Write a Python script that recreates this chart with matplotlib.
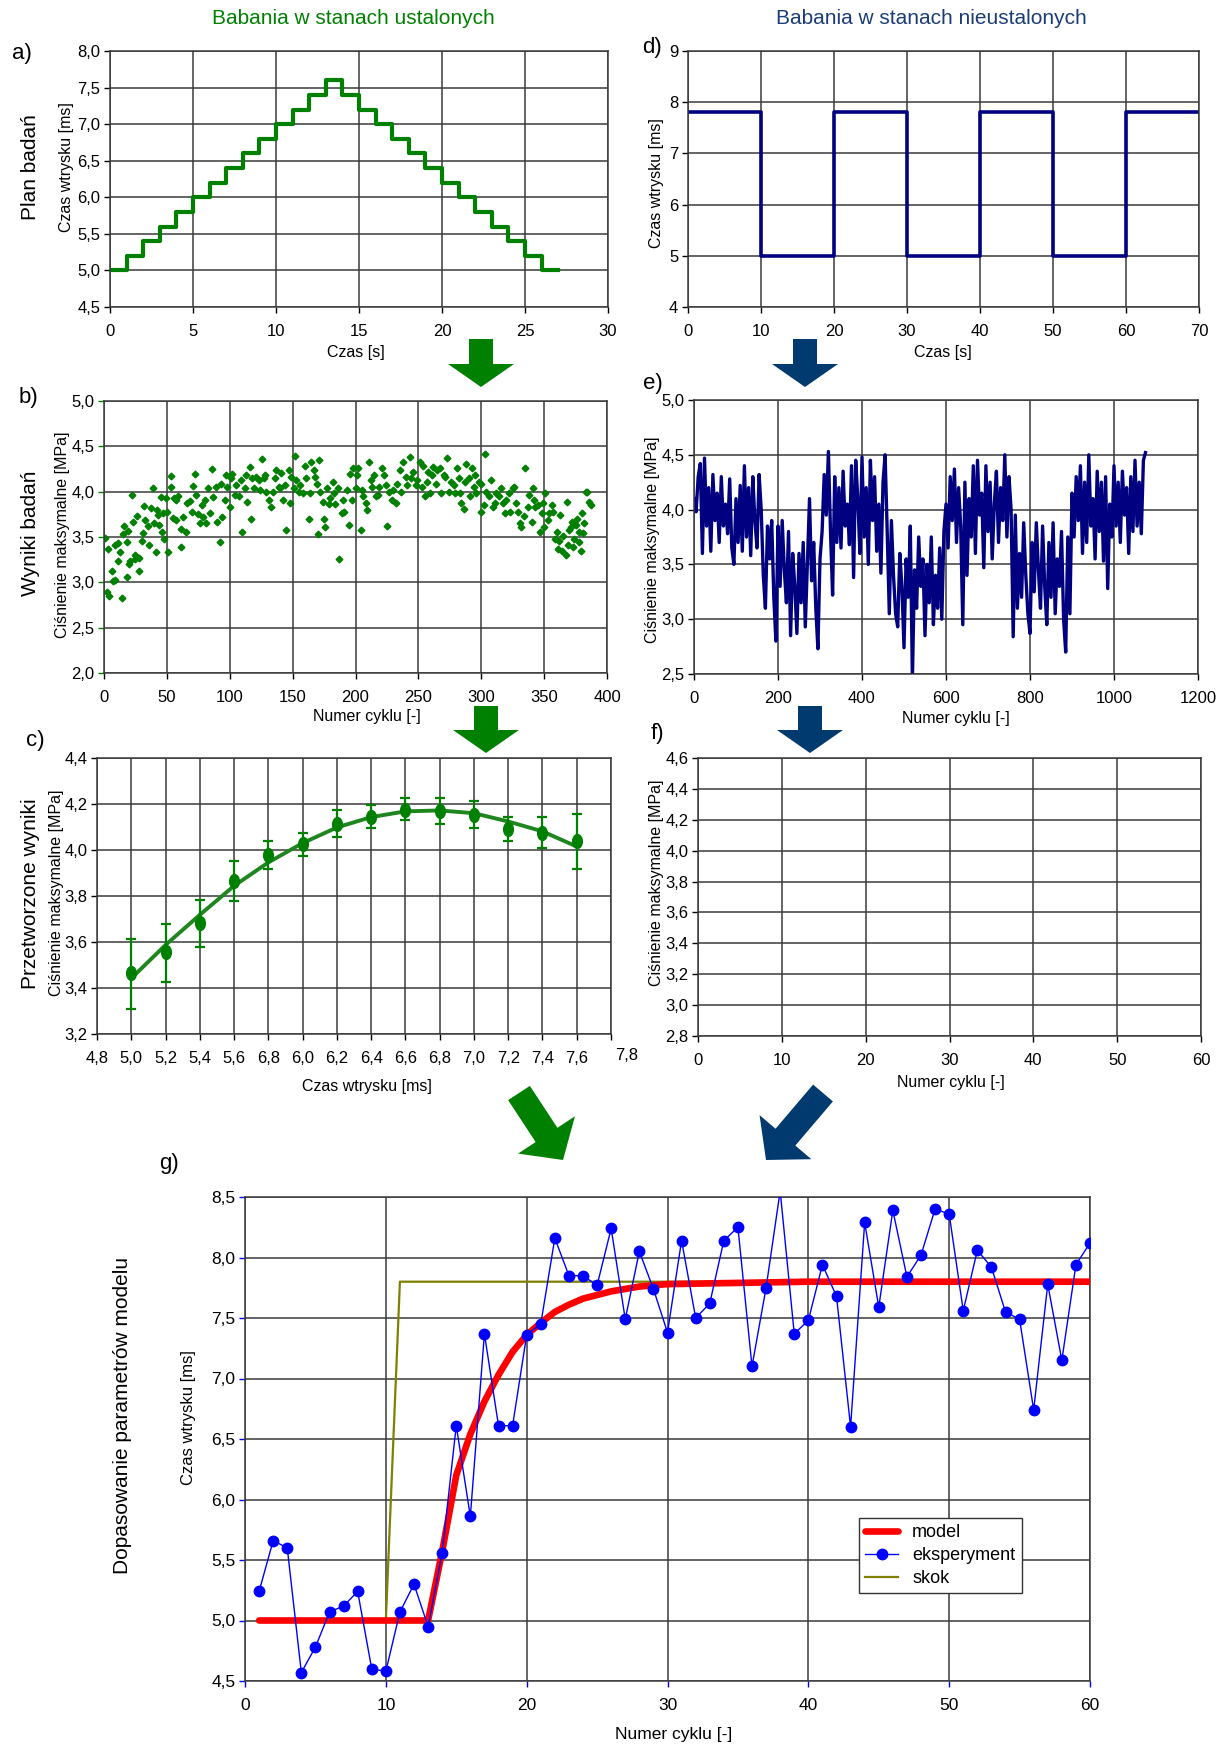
import numpy as np
import matplotlib
matplotlib.use('Agg')
import matplotlib.pyplot as plt
from matplotlib.patches import Polygon
from matplotlib.path import Path
from matplotlib.transforms import Affine2D
from matplotlib.ticker import FuncFormatter, MultipleLocator

plt.rcParams['font.family'] = ['Liberation Sans', 'DejaVu Sans']

# ---- dane ----
# a) plan badan (schodki)
a_czas = list(range(0, 28))
a_wart = [5.0, 5.2, 5.4, 5.6, 5.8, 6.0, 6.2, 6.4, 6.6, 6.8, 7.0, 7.2, 7.4, 7.6,
          7.4, 7.2, 7.0, 6.8, 6.6, 6.4, 6.2, 6.0, 5.8, 5.6, 5.4, 5.2, 5.0, 5.0]

# d) plan badan - skoki
d_czas = [0, 10, 20, 30, 40, 50, 60, 70]
d_wart = [7.8, 5.0, 7.8, 5.0, 7.8, 5.0, 7.8, 7.8]

# b) wyniki badan
b_cykl = [1, 2, 3, 4, 6, 7, 9, 9, 11, 11, 13, 14, 15, 16, 18, 18, 19, 20, 21, 22,
          23, 25, 25, 26, 28, 28, 30, 31, 32, 33, 35, 36, 37, 39, 40, 41, 42, 43, 44, 45,
          46, 47, 48, 49, 50, 51, 53, 53, 55, 56, 57, 57, 59, 61, 61, 63, 65, 66, 68, 70,
          71, 72, 73, 75, 76, 78, 79, 80, 81, 83, 84, 86, 87, 89, 90, 92, 93, 94, 96, 97,
          98, 100, 101, 102, 104, 105, 107, 109, 110, 112, 113, 114, 116, 117, 118, 119, 121, 123, 124, 126,
          127, 128, 129, 131, 133, 134, 136, 137, 139, 140, 141, 142, 144, 145, 147, 148, 149, 151, 152, 153,
          155, 156, 158, 160, 161, 163, 164, 165, 167, 168, 169, 170, 171, 172, 174, 175, 176, 177, 179, 180,
          182, 183, 184, 186, 187, 189, 190, 191, 193, 195, 196, 197, 198, 200, 201, 202, 204, 205, 206, 208,
          209, 211, 212, 213, 215, 216, 218, 219, 221, 223, 224, 225, 227, 229, 230, 232, 233, 235, 236, 238,
          240, 241, 243, 244, 246, 248, 249, 251, 253, 254, 255, 257, 258, 259, 261, 262, 264, 265, 267, 268,
          270, 271, 273, 274, 276, 278, 279, 281, 282, 283, 284, 286, 287, 288, 290, 291, 293, 294, 295, 296,
          298, 300, 300, 302, 303, 304, 306, 308, 309, 311, 312, 314, 316, 317, 319, 320, 322, 323, 325, 326,
          328, 329, 331, 332, 334, 335, 337, 338, 340, 341, 342, 343, 345, 347, 348, 349, 350, 351, 353, 354,
          356, 357, 359, 360, 361, 362, 363, 364, 365, 367, 368, 369, 370, 371, 372, 373, 374, 375, 376, 378,
          378, 379, 380, 381, 382, 383, 384, 386, 387]
b_wart = [3.49, 2.89, 3.37, 2.85, 3.13, 3.02, 3.03, 3.41, 3.43, 3.23, 3.34, 2.83, 3.53, 3.62, 3.44, 3.06, 3.57, 3.20, 3.24, 3.96,
          3.67, 3.30, 3.26, 3.73, 3.27, 3.13, 3.46, 3.54, 3.84, 3.69, 3.62, 3.41, 3.82, 4.04, 3.65, 3.33, 3.80, 3.74, 3.63, 3.94,
          3.56, 3.76, 3.48, 3.93, 3.78, 3.33, 4.17, 4.05, 3.71, 3.93, 3.69, 3.91, 3.95, 3.59, 3.39, 3.72, 3.55, 3.87, 3.90, 3.78,
          4.06, 4.20, 3.96, 3.75, 3.65, 3.85, 3.72, 3.91, 3.65, 4.04, 3.76, 4.25, 3.94, 4.05, 3.67, 3.45, 4.09, 3.72, 3.91, 4.18,
          4.05, 3.83, 4.15, 4.20, 3.96, 4.07, 3.95, 4.13, 3.55, 4.04, 4.18, 3.89, 4.27, 3.70, 4.15, 4.04, 4.16, 4.13, 4.02, 4.36,
          4.15, 4.18, 4.00, 3.91, 3.83, 4.00, 4.15, 4.24, 4.05, 4.04, 4.21, 3.91, 4.07, 3.58, 4.24, 3.87, 4.16, 4.04, 4.39, 4.13,
          4.00, 4.07, 3.98, 4.28, 4.15, 3.70, 3.98, 4.33, 4.24, 4.16, 4.08, 3.53, 4.35, 4.00, 3.89, 3.70, 3.61, 4.04, 3.86, 3.93,
          4.11, 3.98, 3.86, 4.04, 3.26, 3.76, 3.91, 3.78, 4.02, 3.63, 4.20, 3.91, 4.26, 4.04, 4.18, 4.26, 3.58, 4.02, 3.95, 3.87,
          3.80, 4.33, 4.13, 4.05, 4.18, 3.95, 3.96, 4.05, 4.26, 4.18, 4.07, 3.62, 4.00, 3.91, 4.02, 3.87, 4.09, 4.24, 4.00, 4.33,
          4.16, 4.07, 4.38, 4.15, 4.22, 4.07, 4.13, 4.33, 4.05, 4.28, 3.95, 4.11, 4.22, 3.98, 4.18, 4.27, 4.09, 4.24, 4.26, 3.98,
          4.18, 4.16, 4.37, 4.00, 4.11, 4.07, 3.98, 4.26, 4.15, 3.98, 3.87, 3.81, 4.11, 4.31, 4.15, 3.95, 4.26, 4.05, 4.18, 3.98,
          4.11, 4.09, 3.78, 3.85, 4.42, 4.00, 3.95, 4.13, 3.83, 3.87, 3.98, 3.95, 4.04, 3.87, 3.76, 3.91, 3.98, 3.78, 4.04, 4.05,
          3.87, 3.78, 3.65, 3.61, 3.73, 4.26, 3.83, 3.96, 3.67, 4.04, 3.91, 3.83, 3.85, 3.56, 3.76, 3.87, 3.61, 3.98, 3.69, 3.76,
          3.85, 3.78, 3.48, 3.56, 3.37, 3.46, 3.74, 3.35, 3.51, 3.30, 3.89, 3.41, 3.58, 3.61, 3.67, 3.39, 3.48, 3.63, 3.70, 3.56,
          3.45, 3.35, 3.76, 3.54, 3.65, 4.00, 4.00, 3.89, 3.85]

# e) wyniki badan w stanach nieustalonych (co 5 cykli)
e_cykl = np.arange(0, 1076, 5)
e_wart = [4.10, 3.98, 4.30, 4.42, 3.60, 4.47, 3.85, 4.20, 3.62, 4.32, 3.90, 4.15, 3.70, 4.30, 3.85, 4.05, 3.78,
          4.28, 3.65, 3.50, 4.10, 3.70, 4.22, 3.62, 4.40, 3.75, 4.20, 3.58, 4.30, 3.90, 3.65, 4.32, 4.00,
          3.40, 3.10, 3.85, 3.55, 3.90, 3.20, 2.80, 3.85, 3.30, 3.90, 3.45, 3.15, 3.80, 2.85, 3.60, 3.30,
          2.87, 3.60, 3.15, 3.70, 2.93, 3.50, 4.10, 3.35, 3.70, 3.10, 2.73, 3.55, 3.80,
          4.32, 3.95, 4.53, 3.80, 3.22, 4.30, 3.70, 4.20, 3.65, 4.35, 3.85, 4.05, 3.68, 4.40, 3.38, 4.45,
          4.10, 3.60, 4.48, 3.75, 4.20, 3.50, 4.45, 3.90, 4.30, 3.62, 4.05, 3.42, 4.25, 4.50, 3.80,
          3.05, 3.90, 3.40, 3.05, 2.93, 3.60, 3.30, 2.74, 3.55, 3.20, 3.85, 2.45, 3.45, 3.10, 3.75, 3.30,
          3.55, 2.85, 3.50, 3.15, 3.75, 2.95, 3.40, 3.10, 3.65, 3.00, 3.80,
          4.05, 3.65, 4.30, 3.90, 4.37, 3.70, 4.20, 3.85, 2.95, 4.25, 3.40, 4.10, 3.75, 4.40, 3.60, 4.45,
          3.95, 4.15, 3.47, 4.40, 3.80, 4.25, 3.55, 4.05, 4.35, 3.70, 4.20, 3.90, 4.50, 3.75, 4.30, 4.00,
          2.84, 3.95, 3.10, 3.60, 3.20, 3.88, 3.40, 3.05, 2.87, 3.70, 3.25, 3.88, 3.45, 3.10, 3.85, 3.30,
          2.95, 3.70, 3.20, 3.88, 3.05, 3.55, 3.30, 3.80, 3.00, 2.70, 3.75, 3.05,
          4.15, 3.75, 4.30, 3.90, 4.40, 3.60, 4.25, 3.70, 4.50, 3.85, 4.10, 3.55, 4.35, 3.80, 4.25, 3.53,
          4.30, 3.28, 4.05, 3.75, 4.40, 3.85, 4.25, 3.70, 4.35, 3.95, 4.20, 3.60, 4.30, 3.80, 4.45, 3.85,
          4.25, 3.78, 4.45, 4.52]

# c) przetworzone wyniki
c_czas = [5.0, 5.2, 5.4, 5.6, 5.8, 6.0, 6.2, 6.4, 6.6, 6.8, 7.0, 7.2, 7.4, 7.6]
c_srednia = [3.464, 3.555, 3.682, 3.867, 3.979, 4.026, 4.114, 4.143, 4.175, 4.168, 4.153, 4.091, 4.073, 4.037]
c_gora = [3.612, 3.677, 3.783, 3.953, 4.041, 4.073, 4.172, 4.194, 4.226, 4.226, 4.214, 4.143, 4.142, 4.158]
c_dol = [3.310, 3.426, 3.577, 3.779, 3.917, 3.976, 4.055, 4.097, 4.129, 4.113, 4.095, 4.040, 4.008, 3.917]
c_model = [3.442, 3.587, 3.718, 3.844, 3.946, 4.030, 4.098, 4.143, 4.168, 4.172, 4.160, 4.124, 4.081, 4.015]
c_ticki = [4.8, 5.0, 5.2, 5.4, 5.6, 5.8, 6.0, 6.2, 6.4, 6.6, 6.8, 7.0, 7.2, 7.4, 7.6]
c_etykiety = ['4,8', '5,0', '5,2', '5,4', '5,6', '6,8', '6,0', '6,2', '6,4', '6,6', '6,8', '7,0', '7,2', '7,4', '7,6']

# g) dopasowanie parametrow modelu
g_cykl = list(range(1, 61))
g_eksp = [5.24, 5.66, 5.60, 4.57, 4.78, 5.07, 5.12, 5.24, 4.60, 4.58,
          5.07, 5.30, 4.95, 5.56, 6.61, 5.86, 7.37, 6.61, 6.61, 7.36,
          7.45, 8.16, 7.85, 7.85, 7.77, 8.24, 7.49, 8.05, 7.74, 7.38,
          8.14, 7.50, 7.62, 8.14, 8.25, 7.10, 7.75, 8.55, 7.37, 7.48,
          7.94, 7.68, 6.60, 8.29, 7.59, 8.39, 7.84, 8.02, 8.40, 8.36,
          7.56, 8.06, 7.92, 7.55, 7.49, 6.74, 7.78, 7.15, 7.94, 8.12]
g_model_x = [1, 13, 14, 15, 16, 17, 18, 19, 20, 21, 22, 23, 24, 25, 26, 27, 28, 29, 30, 35, 40, 60]
g_model_y = [5.0, 5.0, 5.57, 6.20, 6.54, 6.81, 7.03, 7.22, 7.36, 7.46, 7.55, 7.61, 7.66, 7.69, 7.72, 7.74,
             7.76, 7.77, 7.78, 7.79, 7.80, 7.80]
g_skok_x = [1, 10, 11, 60]
g_skok_y = [5.0, 5.0, 7.8, 7.8]

ZIELONY = '#008000'
GRANAT = '#000080'
NIEBIESKI_STRZ = '#003a6e'

W, H = 1224, 1746
fig = plt.figure(figsize=(W / 100, H / 100), dpi=100)


def osie(l, r, t, b):
    ax = fig.add_axes([l / W, 1 - b / H, (r - l) / W, (b - t) / H])
    ax.grid(True, color='#3a3a3a', lw=1.1)
    ax.set_axisbelow(True)
    for s in ax.spines.values():
        s.set_color('#3a3a3a')
        s.set_linewidth(1.1)
    ax.tick_params(direction='out', length=4, width=1, labelsize=12, pad=3)
    ax.tick_params(axis='x', pad=8)
    return ax


def przecinek(v, pos):
    return f'{v:.1f}'.replace('.', ',')


def tekst(x, y, s, **kw):
    fig.text(x / W, 1 - y / H, s, ha='center', va='center', **kw)


def strzalka(x0, y0, x1, y1, kolor, sw=12, hw=33, hl=23):
    L = np.hypot(x1 - x0, y1 - y0)
    dx, dy = (x1 - x0) / L, (y1 - y0) / L
    px, py = -dy, dx
    bx, by = x1 - hl * dx, y1 - hl * dy
    pts = [(x0 + sw * px, y0 + sw * py), (bx + sw * px, by + sw * py), (bx + hw * px, by + hw * py),
           (x1, y1), (bx - hw * px, by - hw * py), (bx - sw * px, by - sw * py), (x0 - sw * px, y0 - sw * py)]
    pts = [(x / W, 1 - y / H) for x, y in pts]
    fig.add_artist(Polygon(pts, closed=True, transform=fig.transFigure, facecolor=kolor, edgecolor='none'))


# ---- a) ----
ax = osie(110, 608, 51, 307)
ax.plot(a_czas, a_wart, drawstyle='steps-post', color=ZIELONY, lw=3)
ax.set_xlim(0, 30)
ax.set_ylim(4.5, 8.0)
ax.xaxis.set_major_locator(MultipleLocator(5))
ax.yaxis.set_major_locator(MultipleLocator(0.5))
ax.yaxis.set_major_formatter(FuncFormatter(przecinek))

# ---- d) ----
ax = osie(688, 1199, 51, 307)
ax.plot(d_czas, d_wart, drawstyle='steps-post', color=GRANAT, lw=2.6)
ax.set_xlim(0, 70)
ax.set_ylim(4, 9)
ax.xaxis.set_major_locator(MultipleLocator(10))
ax.yaxis.set_major_locator(MultipleLocator(1))

# ---- b) ----
ax = osie(104, 607, 401, 673)
ax.plot(b_cykl, b_wart, ls='none', marker='D', ms=3.4, color=ZIELONY)
ax.set_xlim(0, 400)
ax.set_ylim(2.0, 5.0)
ax.xaxis.set_major_locator(MultipleLocator(50))
ax.yaxis.set_major_locator(MultipleLocator(0.5))
ax.yaxis.set_major_formatter(FuncFormatter(przecinek))
ax.tick_params(axis='y', color=ZIELONY)

# ---- e) ----
ax = osie(694, 1198, 400, 674)
ax.plot(e_cykl, e_wart, color=GRANAT, lw=2.4)
ax.set_xlim(0, 1200)
ax.set_ylim(2.5, 5.0)
ax.xaxis.set_major_locator(MultipleLocator(200))
ax.yaxis.set_major_locator(MultipleLocator(0.5))
ax.yaxis.set_major_formatter(FuncFormatter(przecinek))

# ---- c) ----
ax = osie(97, 611, 758, 1034)
owal = Path.unit_circle().transformed(Affine2D().scale(0.7, 1.0))
ax.plot(c_czas, c_model, color='#1f861f', lw=2.8, zorder=3)
ax.errorbar(c_czas, c_srednia,
            yerr=[np.subtract(c_srednia, c_dol), np.subtract(c_gora, c_srednia)],
            fmt='none', ecolor=ZIELONY, elinewidth=1.6, capsize=3.5, capthick=1.6, zorder=4)
ax.plot(c_czas, c_srednia, ls='none', marker=owal, ms=10, color=ZIELONY, zorder=5)
ax.set_xlim(4.8, 7.8)
ax.set_ylim(3.2, 4.4)
ax.set_xticks(c_ticki + [7.8])
ax.set_xticklabels(c_etykiety + [''])
ax.yaxis.set_major_locator(MultipleLocator(0.2))
ax.yaxis.set_major_formatter(FuncFormatter(przecinek))
tekst(627, 1055, '7,8', fontsize=12)

# ---- f) ----
ax = osie(698, 1201, 758, 1036)
ax.set_xlim(0, 60)
ax.set_ylim(2.8, 4.6)
ax.xaxis.set_major_locator(MultipleLocator(10))
ax.yaxis.set_major_locator(MultipleLocator(0.2))
ax.yaxis.set_major_formatter(FuncFormatter(przecinek))

# ---- g) ----
ax = osie(245, 1090, 1197, 1681)
ax.plot(g_skok_x, g_skok_y, color='#808000', lw=1.6, label='skok', zorder=2)
ax.plot(g_model_x, g_model_y, color='#ff0000', lw=4.8, solid_capstyle='round', label='model', zorder=3)
ax.plot(g_cykl, g_eksp, color='#0000ff', lw=1, marker='o', ms=7.5, label='eksperyment', zorder=4)
ax.set_xlim(0, 60)
ax.set_ylim(4.5, 8.5)
ax.xaxis.set_major_locator(MultipleLocator(10))
ax.yaxis.set_major_locator(MultipleLocator(0.5))
ax.yaxis.set_major_formatter(FuncFormatter(przecinek))
ax.tick_params(color='#0000ff', labelsize=12.5)
uchwyty, nazwy = ax.get_legend_handles_labels()
kolej = [1, 2, 0]
leg = ax.legend([uchwyty[i] for i in kolej], [nazwy[i] for i in kolej],
                loc='upper left', bbox_to_anchor=(859 / W, 1 - 1518 / H), bbox_transform=fig.transFigure,
                fontsize=13, frameon=True, fancybox=False, framealpha=1, edgecolor='#333333',
                handlelength=1.8, labelspacing=0.32, borderpad=0.35, borderaxespad=0)
leg.get_frame().set_linewidth(1)

# ---- teksty ----
tekst(353, 19, 'Babania w stanach ustalonych', fontsize=15, color=ZIELONY)
tekst(931, 19, 'Babania w stanach nieustalonych', fontsize=15, color='#1c3c78')

for x, y, s in [(22, 53, 'a)'), (652, 47, 'd)'), (28, 397, 'b)'), (653, 383, 'e)'),
                (35, 740, 'c)'), (657, 733, 'f)'), (169, 1163, 'g)')]:
    tekst(x, y, s, fontsize=16)

tekst(30, 167, 'Plan badań', fontsize=15, rotation=90)
tekst(30, 533, 'Wyniki badań', fontsize=15, rotation=90)
tekst(31, 894, 'Przetworzone wyniki', fontsize=15, rotation=90)
tekst(123, 1415, 'Dopasowanie parametrów modelu', fontsize=15, rotation=90)

tekst(67, 167, 'Czas wtrysku [ms]', fontsize=11.5, rotation=90)
tekst(657, 183, 'Czas wtrysku [ms]', fontsize=11.5, rotation=90)
tekst(63, 535, 'Ciśnienie maksymalne [MPa]', fontsize=11.5, rotation=90)
tekst(653, 540, 'Ciśnienie maksymalne [MPa]', fontsize=11.5, rotation=90)
tekst(57, 893, 'Ciśnienie maksymalne [MPa]', fontsize=11.5, rotation=90)
tekst(657, 883, 'Ciśnienie maksymalne [MPa]', fontsize=11.5, rotation=90)
tekst(188, 1418, 'Czas wtrysku [ms]', fontsize=12, rotation=90)

tekst(356, 352, 'Czas [s]', fontsize=11.5)
tekst(943, 352, 'Czas [s]', fontsize=11.5)
tekst(367, 717, 'Numer cyklu [-]', fontsize=11.5)
tekst(956, 719, 'Numer cyklu [-]', fontsize=11.5)
tekst(367, 1087, 'Czas wtrysku [ms]', fontsize=11.5)
tekst(951, 1082, 'Numer cyklu [-]', fontsize=11.5)
tekst(674, 1734, 'Numer cyklu [-]', fontsize=12.5)

# ---- strzalki ----
strzalka(481, 339, 481, 387, ZIELONY)
strzalka(805, 339, 805, 387, NIEBIESKI_STRZ)
strzalka(486, 706, 486, 753, ZIELONY)
strzalka(810, 706, 810, 753, NIEBIESKI_STRZ)
strzalka(519, 1093, 563, 1160, ZIELONY, sw=13, hw=34, hl=30)
strzalka(823, 1093, 766, 1160, NIEBIESKI_STRZ, sw=13, hw=34, hl=30)

fig.savefig('out.png', dpi=100, facecolor='white')
